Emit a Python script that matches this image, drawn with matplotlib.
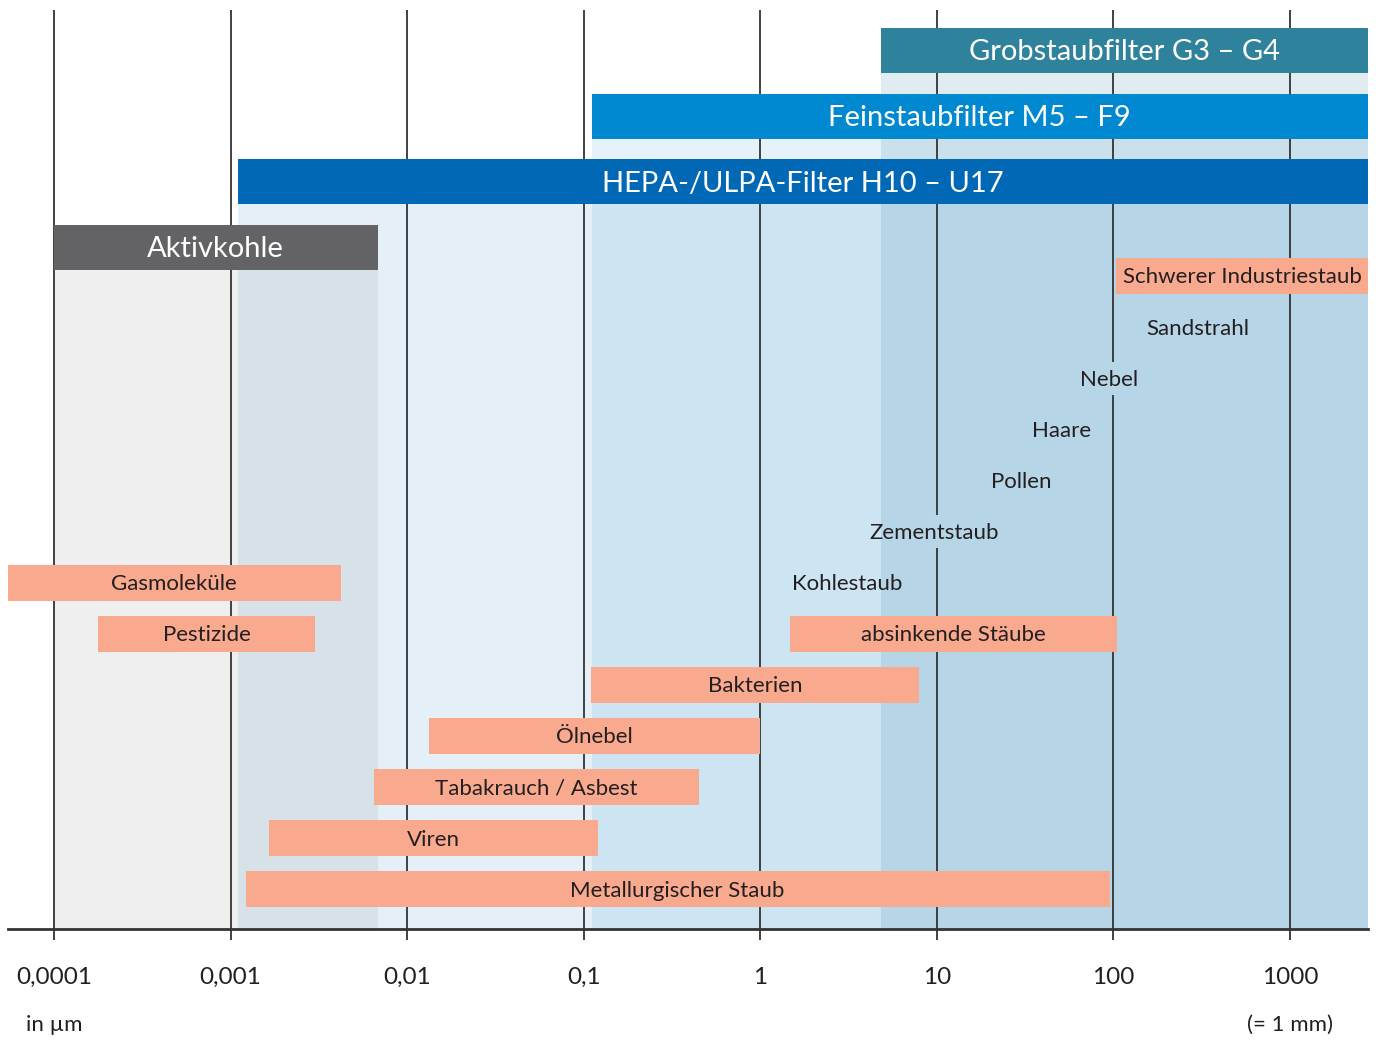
import numpy as np
import matplotlib
matplotlib.use("Agg")
import matplotlib.pyplot as plt
from matplotlib.colors import to_rgb

plt.rcParams['font.family'] = ['Lato', 'DejaVu Sans']

# filter classes (coloured header bars), top to bottom, sizes in µm
filter_names = ["Grobstaubfilter G3 – G4", "Feinstaubfilter M5 – F9",
                "HEPA-/ULPA-Filter H10 – U17", "Aktivkohle"]
filter_lo = [4.8, 0.111, 0.0011, 0.0001]
filter_hi = [3000, 3000, 3000, 0.0068]

# particles with a size range
bar_names = ["Schwerer Industriestaub", "Gasmoleküle", "Pestizide",
             "absinkende Stäube", "Bakterien", "Ölnebel",
             "Tabakrauch / Asbest", "Viren", "Metallurgischer Staub"]
bar_lo = [104, 0.00005, 0.000178, 1.48, 0.11, 0.0133, 0.0065, 0.00166, 0.00122]
bar_hi = [3000, 0.0042, 0.003, 105, 7.9, 0.99, 0.45, 0.12, 95]
bar_rows = [0, 6, 7, 7, 8, 9, 10, 11, 12]

# particles shown only as a label at their typical size
text_names = ["Sandstrahl", "Nebel", "Haare", "Pollen", "Zementstaub", "Kohlestaub"]
text_size = [300, 94, 51, 30, 9.6, 3.1]
text_rows = [1, 2, 3, 4, 5, 6]

ticks = [1e-4, 1e-3, 1e-2, 1e-1, 1, 10, 100, 1000]
tick_labels = ["0,0001", "0,001", "0,01", "0,1", "1", "10", "100", "1000"]

# styles
filter_colors = ["#2f829b", "#0088d0", "#0068b4", "#636365"]
band_alpha = [0.145, 0.1, 0.1, 0.1]
salmon = "#f9a98e"
dark = "#231f20"
grid_c = "#333333"

W, H = 1376, 1041
fig = plt.figure(figsize=(W / 100, H / 100), dpi=100)
ax = fig.add_axes([8 / W, 112 / H, 1360 / W, 919 / H])
ax.set_xscale("log")
ax.set_xlim(10 ** -4.2605, 10 ** 3.4417)
ax.set_ylim(12.78, -5.205)

head_h = 0.88
bar_h = 0.705
head_y = [-0.558 - 1.286 * (3 - i) for i in range(4)]
y_bottom = 12.78

# translucent bands below each header, drawn from the lowest header up
for i in [3, 2, 1, 0]:
    top = head_y[i] + head_h / 2
    ax.barh((top + y_bottom) / 2, filter_hi[i] - filter_lo[i], left=filter_lo[i],
            height=y_bottom - top, color=filter_colors[i], alpha=band_alpha[i],
            lw=0, zorder=0)

# header bars
for i, name in enumerate(filter_names):
    ax.barh(head_y[i], filter_hi[i] - filter_lo[i], left=filter_lo[i],
            height=head_h, color=filter_colors[i], lw=0, zorder=2)
    xl = max(filter_lo[i], ax.get_xlim()[0])
    xr = min(filter_hi[i], ax.get_xlim()[1])
    ax.text(np.sqrt(xl * xr), head_y[i] + 0.04, name, color="white",
            fontsize=21, ha="center", va="center", zorder=3)

# range bars
for name, lo, hi, r in zip(bar_names, bar_lo, bar_hi, bar_rows):
    ax.barh(r, hi - lo, left=lo, height=bar_h, color=salmon, lw=0, zorder=2)
    xl = max(lo, ax.get_xlim()[0])
    xr = min(hi, ax.get_xlim()[1])
    ax.text(np.sqrt(xl * xr), r + 0.03, name, color=dark, fontsize=16,
            ha="center", va="center", zorder=3)


def band_colour(x):
    c = np.array([1.0, 1.0, 1.0])
    for i in [3, 2, 1, 0]:
        if filter_lo[i] <= x <= filter_hi[i]:
            c = c * (1 - band_alpha[i]) + np.array(to_rgb(filter_colors[i])) * band_alpha[i]
    return tuple(c)


# label-only particles
labels = []
for name, x, r in zip(text_names, text_size, text_rows):
    t = ax.text(x, r + 0.03, name, color=dark, fontsize=16, ha="center",
                va="center", zorder=3)
    labels.append((t, r))

# axis and grid
ax.set_xticks(ticks)
ax.set_xticklabels(tick_labels)
ax.xaxis.set_minor_locator(matplotlib.ticker.NullLocator())
ax.grid(axis="x", color=grid_c, lw=1.3, zorder=1)
ax.set_axisbelow(True)
ax.tick_params(axis="x", direction="out", length=8, width=1.3, color=grid_c,
               labelsize=17.5, labelcolor=dark, pad=19)
ax.set_yticks([])
for s in ["top", "left", "right"]:
    ax.spines[s].set_visible(False)
ax.spines["bottom"].set_color(grid_c)
ax.spines["bottom"].set_linewidth(2)

# the grid line is interrupted where a free label sits on it
fig.canvas.draw()
inv = ax.transData.inverted()
for t, r in labels:
    bb = t.get_window_extent().transformed(inv)
    for tk in ticks:
        if bb.x0 < tk < bb.x1:
            ax.fill_betweenx([r - 0.32, r + 0.32], tk / 1.03, tk * 1.03,
                             color=band_colour(tk), lw=0, zorder=1.5)

ax.text(0.0132, -0.1045, "in µm", transform=ax.transAxes, fontsize=16,
        color=dark, ha="left", va="center")
ax.text(1000, -0.1045, "(= 1 mm)", transform=ax.get_xaxis_transform(),
        fontsize=16, color=dark, ha="center", va="center")

fig.savefig("out.png", dpi=100)
